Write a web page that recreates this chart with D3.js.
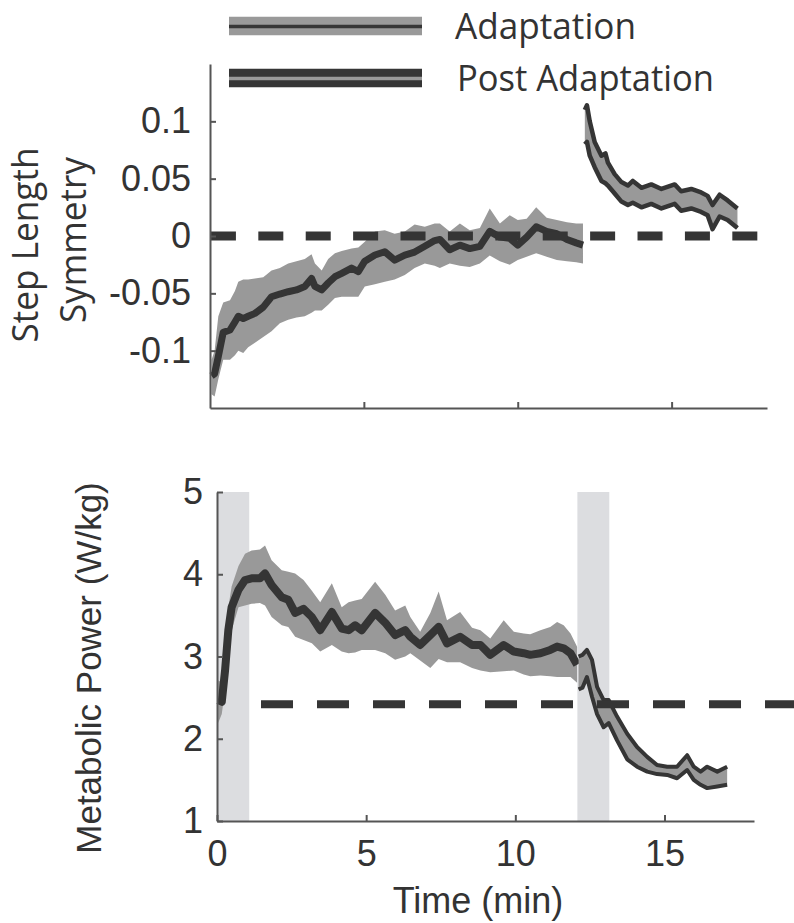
<!DOCTYPE html>
<html>
<head>
<meta charset="utf-8">
<script src="https://cdn.jsdelivr.net/npm/d3@7/dist/d3.min.js"></script>
<style>
    body { margin: 0; background: #fff; }
    .axis path, .axis line { stroke: #555; stroke-width: 2; }
    .axis text { font-family: "Liberation Sans", Arial, sans-serif; font-size: 36px; fill: #333; }
    .humanist { font-family: "Open Sans", sans-serif; fill: #333; }
    .plain { font-family: "Liberation Sans", Arial, sans-serif; fill: #333; }
</style>
</head>
<body>
<div id="chart"></div>
<script>

// ---- step length symmetry, adaptation (mean and shaded band) ----
const slsAdaptTime = [0.05, 0.15, 0.27, 0.43, 0.65, 0.81, 0.92, 1.08, 1.24, 1.46, 1.73, 2.0, 2.27, 2.54, 2.81, 3.08, 3.3, 3.41, 3.63, 3.84, 4.06, 4.28, 4.6, 4.82, 5.03, 5.36, 5.68, 6.0, 6.33, 6.65, 6.98, 7.3, 7.47, 7.79, 8.12, 8.44, 8.77, 9.09, 9.42, 9.74, 10.0, 10.29, 10.6, 10.94, 11.27, 11.6, 11.9, 12.12];
const slsAdaptMean = [-0.122, -0.12, -0.105, -0.084, -0.082, -0.075, -0.070, -0.072, -0.070, -0.0675, -0.062, -0.053, -0.0506, -0.0486, -0.047, -0.044, -0.037, -0.044, -0.047, -0.041, -0.0355, -0.0326, -0.028, -0.031, -0.022, -0.0166, -0.0137, -0.021, -0.0166, -0.014, -0.009, -0.004, -0.003, -0.012, -0.008, -0.011, -0.009, 0.004, -0.001, -0.002, -0.008, -0.001, 0.008, 0.004, 0.002, -0.003, -0.006, -0.008];
const slsAdaptHi = [-0.108, -0.100, -0.070, -0.058, -0.056, -0.048, -0.040, -0.038, -0.038, -0.037, -0.036, -0.030, -0.028, -0.024, -0.022, -0.020, -0.016, -0.024, -0.030, -0.020, -0.015, -0.013, -0.011, -0.010, -0.005, 0.004, 0.005, 0.002, 0.004, 0.010, 0.008, 0.011, 0.011, 0.004, 0.011, 0.005, 0.007, 0.024, 0.011, 0.018, 0.014, 0.015, 0.025, 0.016, 0.014, 0.012, 0.011, 0.011];
const slsAdaptLo = [-0.138, -0.140, -0.125, -0.108, -0.108, -0.104, -0.100, -0.102, -0.097, -0.093, -0.088, -0.083, -0.076, -0.073, -0.071, -0.070, -0.067, -0.065, -0.065, -0.060, -0.054, -0.053, -0.053, -0.053, -0.044, -0.042, -0.040, -0.038, -0.034, -0.028, -0.024, -0.026, -0.028, -0.024, -0.026, -0.027, -0.024, -0.017, -0.022, -0.025, -0.021, -0.018, -0.015, -0.018, -0.021, -0.022, -0.023, -0.024];

// ---- step length symmetry, post adaptation (band edges) ----
const slsPostTime = [12.18, 12.25, 12.34, 12.5, 12.72, 12.85, 12.93, 13.15, 13.37, 13.58, 13.74, 14.02, 14.34, 14.67, 15.1, 15.31, 15.64, 15.96, 16.17, 16.33, 16.56, 16.82, 17.0, 17.14];
const slsPostHi = [0.110, 0.114, 0.100, 0.082, 0.070, 0.072, 0.064, 0.054, 0.047, 0.044, 0.048, 0.042, 0.045, 0.041, 0.045, 0.039, 0.041, 0.038, 0.035, 0.027, 0.036, 0.031, 0.027, 0.024];
const slsPostLo = [0.080, 0.082, 0.070, 0.060, 0.048, 0.046, 0.044, 0.037, 0.030, 0.027, 0.029, 0.025, 0.028, 0.024, 0.028, 0.022, 0.024, 0.021, 0.018, 0.006, 0.017, 0.014, 0.010, 0.007];

// ---- metabolic power, adaptation ----
const metAdaptTime = [0.04, 0.16, 0.27, 0.38, 0.49, 0.72, 0.94, 1.16, 1.44, 1.61, 1.83, 2.17, 2.39, 2.62, 2.90, 3.18, 3.46, 3.85, 4.18, 4.41, 4.63, 4.85, 5.30, 5.64, 5.97, 6.31, 6.48, 6.81, 7.15, 7.43, 7.71, 8.15, 8.55, 8.83, 9.16, 9.61, 9.95, 10.28, 10.5, 10.84, 11.17, 11.4, 11.62, 11.85, 12.07];
const metAdaptMean = [2.47, 2.45, 2.83, 3.32, 3.60, 3.81, 3.93, 3.95, 3.95, 4.01, 3.87, 3.72, 3.69, 3.53, 3.58, 3.48, 3.32, 3.54, 3.34, 3.32, 3.38, 3.32, 3.53, 3.41, 3.26, 3.32, 3.24, 3.14, 3.26, 3.36, 3.16, 3.24, 3.14, 3.14, 3.02, 3.14, 3.06, 3.04, 3.02, 3.04, 3.08, 3.12, 3.10, 3.04, 2.90];
const metAdaptHi = [2.71, 2.68, 3.20, 3.60, 3.85, 4.10, 4.25, 4.29, 4.30, 4.35, 4.17, 4.05, 4.03, 4.01, 3.93, 3.80, 3.66, 3.89, 3.60, 3.66, 3.68, 3.70, 3.91, 3.75, 3.56, 3.62, 3.48, 3.30, 3.53, 3.79, 3.44, 3.54, 3.35, 3.32, 3.22, 3.44, 3.30, 3.28, 3.27, 3.32, 3.36, 3.42, 3.38, 3.28, 3.12];
const metAdaptLo = [2.19, 2.30, 2.59, 3.05, 3.32, 3.60, 3.62, 3.64, 3.65, 3.62, 3.48, 3.38, 3.36, 3.24, 3.20, 3.16, 3.06, 3.14, 3.06, 3.04, 3.05, 3.08, 3.08, 3.04, 2.96, 3.00, 3.04, 2.95, 2.86, 2.97, 2.93, 2.93, 2.86, 2.83, 2.81, 2.82, 2.83, 2.78, 2.76, 2.77, 2.76, 2.75, 2.75, 2.75, 2.68];

// ---- metabolic power, post adaptation ----
const metPostTime = [12.12, 12.25, 12.4, 12.57, 12.74, 12.96, 13.13, 13.41, 13.75, 14.08, 14.42, 14.75, 15.09, 15.42, 15.76, 15.98, 16.21, 16.43, 16.77, 17.1];
const metPostHi = [3.00, 3.02, 3.08, 2.96, 2.63, 2.47, 2.47, 2.27, 2.06, 1.90, 1.78, 1.68, 1.66, 1.66, 1.80, 1.66, 1.60, 1.66, 1.60, 1.66];
const metPostLo = [2.60, 2.62, 2.75, 2.51, 2.30, 2.14, 2.19, 1.98, 1.75, 1.66, 1.60, 1.57, 1.56, 1.52, 1.62, 1.50, 1.44, 1.40, 1.42, 1.44];

// reference levels (dashed) and grey time windows
const slsReference = { value: 0, from: 0.03, to: 17.83 };
const metReference = { value: 2.42, from: 1.475, to: 19.4 };
const metWindows = [[0, 1.08], [12.08, 13.15]];

// ticks
const timeTicks = [0, 5, 10, 15];
const timeTickLabels = ["0", "5", "10", "15"];
const slsTicks = [-0.1, -0.05, 0, 0.05, 0.1];
const slsTickLabels = ["-0.1", "-0.05", "0", "0.05", "0.1"];
const metTicks = [1, 2, 3, 4, 5];
const metTickLabels = ["1", "2", "3", "4", "5"];

const legendLabels = ["Adaptation", "Post Adaptation"];

const DARK = "#353535";
const GREY = "#999999";

function zipBand(time, lo, hi, mean) {
    return time.map(function(t, i) {
        return { t: t, lo: lo[i], hi: hi[i], mean: mean ? mean[i] : null };
    });
}

class TracePanel {

    constructor(_svg, _config) {
        this.svg = _svg;
        this.config = _config;
        this.initVis();
    }

    initVis() {
        let vis = this;
        let c = vis.config;

        vis.x = d3.scaleLinear().domain(c.xDomain).range(c.xRange);
        vis.y = d3.scaleLinear().domain(c.yDomain).range(c.yRange);

        vis.g = vis.svg.append("g");

        // light grey windows
        vis.g.selectAll(".window")
            .data(c.windows || [])
            .enter().append("rect")
            .attr("class", "window")
            .attr("x", function(d) { return vis.x(d[0]); })
            .attr("width", function(d) { return vis.x(d[1]) - vis.x(d[0]); })
            .attr("y", vis.y(c.yDomain[1]))
            .attr("height", vis.y(c.yDomain[0]) - vis.y(c.yDomain[1]))
            .attr("fill", "#dcdde0");

        vis.area = d3.area()
            .x(function(d) { return vis.x(d.t); })
            .y0(function(d) { return vis.y(d.lo); })
            .y1(function(d) { return vis.y(d.hi); });

        vis.lineOf = function(key) {
            return d3.line()
                .x(function(d) { return vis.x(d.t); })
                .y(function(d) { return vis.y(d[key]); });
        };

        // adaptation: grey band, dark mean
        vis.g.append("path")
            .datum(c.adapt)
            .attr("d", vis.area)
            .attr("fill", GREY);

        vis.g.append("path")
            .datum(c.adapt)
            .attr("d", vis.lineOf("mean"))
            .attr("fill", "none")
            .attr("stroke", DARK)
            .attr("stroke-width", c.meanWidth)
            .attr("stroke-linejoin", "round");

        // post adaptation: grey band with dark edges
        vis.g.append("path")
            .datum(c.post)
            .attr("d", vis.area)
            .attr("fill", GREY);

        ["hi", "lo"].forEach(function(key) {
            vis.g.append("path")
                .datum(c.post)
                .attr("d", vis.lineOf(key))
                .attr("fill", "none")
                .attr("stroke", DARK)
                .attr("stroke-width", c.edgeWidth)
                .attr("stroke-linejoin", "round");
        });

        // dashed reference
        vis.g.append("line")
            .attr("x1", vis.x(c.reference.from))
            .attr("x2", vis.x(c.reference.to))
            .attr("y1", vis.y(c.reference.value))
            .attr("y2", vis.y(c.reference.value))
            .attr("stroke", DARK)
            .attr("stroke-width", c.dashWidth)
            .attr("stroke-dasharray", c.dash);

        // axes
        vis.xAxis = d3.axisBottom(vis.x)
            .tickValues(c.xTicks)
            .tickSizeInner(-6)
            .tickSizeOuter(0)
            .tickPadding(c.xPad)
            .tickFormat(function(d, i) { return c.xLabels ? c.xLabels[i] : ""; });

        vis.yAxis = d3.axisLeft(vis.y)
            .tickValues(c.yTicks)
            .tickSizeInner(-6)
            .tickSizeOuter(0)
            .tickPadding(c.yPad)
            .tickFormat(function(d, i) { return c.yLabels[i]; });

        vis.g.append("g")
            .attr("class", "axis x-axis")
            .attr("transform", "translate(0," + c.yRange[0] + ")")
            .call(vis.xAxis);

        vis.g.append("g")
            .attr("class", "axis y-axis")
            .attr("transform", "translate(" + c.xRange[0] + ",0)")
            .call(vis.yAxis);
    }
}

let svg = d3.select("#chart").append("svg")
    .attr("width", 794)
    .attr("height", 923);

new TracePanel(svg, {
    xDomain: [0, 18.1], xRange: [210, 767],
    yDomain: [-0.15, 0.15], yRange: [408, 64],
    adapt: zipBand(slsAdaptTime, slsAdaptLo, slsAdaptHi, slsAdaptMean),
    post: zipBand(slsPostTime, slsPostLo, slsPostHi),
    meanWidth: 7, edgeWidth: 4.5,
    reference: slsReference, dash: "25 22.4", dashWidth: 9,
    xTicks: [5, 10, 15], xLabels: null, xPad: 10,
    yTicks: slsTicks, yLabels: slsTickLabels, yPad: 19
});

new TracePanel(svg, {
    xDomain: [0, 18], xRange: [217, 754],
    yDomain: [1, 5], yRange: [821, 492],
    windows: metWindows,
    adapt: zipBand(metAdaptTime, metAdaptLo, metAdaptHi, metAdaptMean),
    post: zipBand(metPostTime, metPostLo, metPostHi),
    meanWidth: 8, edgeWidth: 4,
    reference: metReference, dash: "32 24", dashWidth: 8,
    xTicks: timeTicks, xLabels: timeTickLabels, xPad: 19,
    yTicks: metTicks, yLabels: metTickLabels, yPad: 14
});

// axis titles
svg.append("text")
    .attr("class", "humanist")
    .attr("transform", "translate(38,245) rotate(-90)")
    .attr("text-anchor", "middle")
    .attr("font-size", 36)
    .attr("textLength", 195)
    .attr("lengthAdjust", "spacingAndGlyphs")
    .text("Step Length");

svg.append("text")
    .attr("class", "humanist")
    .attr("transform", "translate(86,240) rotate(-90)")
    .attr("text-anchor", "middle")
    .attr("font-size", 36)
    .attr("textLength", 166)
    .attr("lengthAdjust", "spacingAndGlyphs")
    .text("Symmetry");

svg.append("text")
    .attr("class", "plain")
    .attr("transform", "translate(101,668) rotate(-90)")
    .attr("text-anchor", "middle")
    .attr("font-size", 35)
    .text("Metabolic Power (W/kg)");

svg.append("text")
    .attr("class", "plain")
    .attr("x", 478)
    .attr("y", 913)
    .attr("text-anchor", "middle")
    .attr("font-size", 36)
    .text("Time (min)");

// legend
let legend = svg.append("g").attr("class", "legend");
let rowY = [26, 78];
let textLen = [181, 257];

legendLabels.forEach(function(label, i) {
    let outer = i === 0 ? GREY : DARK;
    let inner = i === 0 ? DARK : GREY;
    legend.append("line")
        .attr("x1", 229).attr("x2", 422)
        .attr("y1", rowY[i]).attr("y2", rowY[i])
        .attr("stroke", outer)
        .attr("stroke-width", 18.5);
    legend.append("line")
        .attr("x1", 229).attr("x2", 422)
        .attr("y1", rowY[i] + 0.5).attr("y2", rowY[i] + 0.5)
        .attr("stroke", inner)
        .attr("stroke-width", 3.5);
    legend.append("text")
        .attr("class", "humanist")
        .attr("x", i === 0 ? 455 : 457)
        .attr("y", rowY[i] + 12.5)
        .attr("font-size", 37)
        .attr("textLength", textLen[i])
        .attr("lengthAdjust", "spacingAndGlyphs")
        .text(label);
});

</script>
</body>
</html>
